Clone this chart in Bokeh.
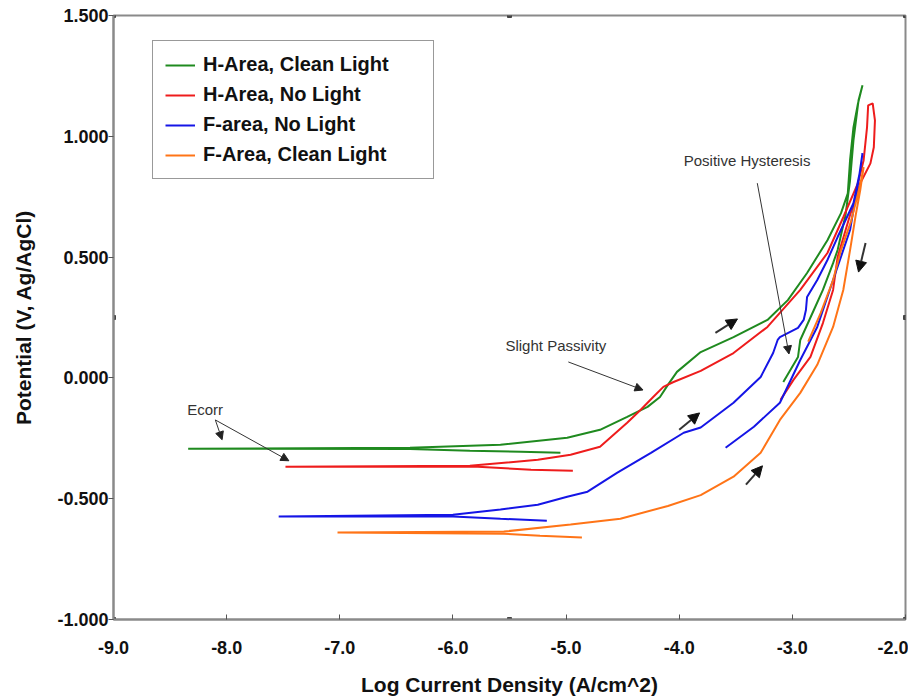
from bokeh.plotting import figure
from bokeh.models import (FixedTicker, NumeralTickFormatter, Legend, LegendItem,
                          Arrow, NormalHead, Label)
from bokeh.embed import file_html
from bokeh.resources import INLINE

# ---------------- data ----------------
# H-Area, Clean Light
h_clean_x = [-5.05, -5.40, -5.85, -6.38, -8.34, -6.38, -5.58, -4.99, -4.70, -4.46, -4.28, -4.17,
             -4.10, -4.02, -3.81, -3.52, -3.22, -3.04, -2.87, -2.69, -2.57, -2.51, -2.49, -2.46,
             -2.42, -2.38,
             -2.415, -2.46, -2.49, -2.53, -2.60, -2.64, -2.73, -2.81, -2.93, -2.95, -3.08]
h_clean_y = [-0.310, -0.306, -0.302, -0.294, -0.293, -0.289, -0.277, -0.248, -0.215, -0.161, -0.120, -0.079,
             -0.029, 0.025, 0.107, 0.169, 0.240, 0.322, 0.434, 0.570, 0.682, 0.764, 0.901, 1.037,
             1.136, 1.211,
             1.149, 0.983, 0.818, 0.674, 0.529, 0.475, 0.364, 0.281, 0.157, 0.087, -0.017]

# H-Area, No Light
h_dark_x = [-4.94, -5.31, -5.78, -7.48, -5.85, -5.25, -4.96, -4.70, -4.46, -4.34, -4.23, -4.14,
            -4.05, -3.81, -3.52, -3.22, -2.93, -2.69, -2.55, -2.42, -2.37, -2.34, -2.33, -2.29,
            -2.27, -2.28, -2.31,
            -2.40, -2.49, -2.60, -2.64, -2.73, -2.84, -2.99, -3.105]
h_dark_y = [-0.384, -0.380, -0.368, -0.368, -0.364, -0.339, -0.318, -0.285, -0.186, -0.132, -0.079, -0.037,
            -0.017, 0.029, 0.103, 0.211, 0.364, 0.517, 0.665, 0.806, 0.901, 1.037, 1.128, 1.136,
            1.066, 0.955, 0.888,
            0.806, 0.674, 0.500, 0.364, 0.227, 0.087, -0.008, -0.091]

# F-area, No Light
f_dark_x = [-5.17, -5.58, -6.00, -7.54, -6.00, -5.58, -5.25, -4.99, -4.81, -4.55, -4.25, -3.96,
            -3.81, -3.52, -3.28, -3.17, -3.13, -3.11, -2.95, -2.90, -2.88, -2.87, -2.78, -2.69,
            -2.60, -2.46, -2.40, -2.38,
            -2.415, -2.49, -2.64, -2.78, -2.93, -3.11, -3.34, -3.59]
f_dark_y = [-0.591, -0.583, -0.574, -0.574, -0.566, -0.545, -0.525, -0.492, -0.471, -0.393, -0.310, -0.227,
            -0.205, -0.103, 0.004, 0.103, 0.157, 0.169, 0.207, 0.240, 0.281, 0.335, 0.405, 0.488,
            0.583, 0.723, 0.860, 0.930,
            0.818, 0.612, 0.405, 0.211, 0.074, -0.103, -0.202, -0.289]

# F-Area, Clean Light
f_clean_x = [-4.86, -5.23, -5.55, -7.02, -5.55, -4.96, -4.52, -4.10, -3.81, -3.52, -3.28, -3.11,
             -2.93, -2.78, -2.64, -2.55, -2.49, -2.44, -2.40, -2.37,
             -2.40, -2.48, -2.57, -2.64, -2.75, -2.86]
f_clean_y = [-0.661, -0.653, -0.645, -0.640, -0.636, -0.607, -0.583, -0.530, -0.485, -0.409, -0.310, -0.174,
             -0.062, 0.054, 0.211, 0.364, 0.529, 0.674, 0.777, 0.872,
             0.800, 0.650, 0.529, 0.405, 0.268, 0.150]

series_names = ["H-Area, Clean Light", "H-Area, No Light", "F-area, No Light", "F-Area, Clean Light"]
series_colors = ["#1f8a1f", "#ee1c1c", "#1515e6", "#ff7417"]
series_x = [h_clean_x, h_dark_x, f_dark_x, f_clean_x]
series_y = [h_clean_y, h_dark_y, f_dark_y, f_clean_y]

x_ticks = [-9.0, -8.0, -7.0, -6.0, -5.0, -4.0, -3.0, -2.0]
y_ticks = [-1.0, -0.5, 0.0, 0.5, 1.0, 1.5]

# annotation texts (x, y of text centre) and arrows (tail -> head)
note_text = ["Ecorr", "Slight Passivity", "Positive Hysteresis"]
note_x = [-8.19, -5.09, -3.40]
note_y = [-0.132, 0.136, 0.901]

thin_x0 = [-8.10, -8.10, -4.98, -3.31]
thin_y0 = [-0.174, -0.174, 0.066, 0.806]
thin_x1 = [-8.04, -7.45, -4.32, -3.03]
thin_y1 = [-0.256, -0.343, -0.050, 0.099]

dir_x0 = [-3.68, -4.00, -3.41, -2.353]
dir_y0 = [0.186, -0.215, -0.442, 0.558]
dir_x1 = [-3.485, -3.82, -3.264, -2.415]
dir_y1 = [0.244, -0.145, -0.364, 0.438]

handle_x = [-9.0, -5.5, -2.0, -2.0, -2.0, -5.5, -9.0, -9.0]
handle_y = [1.5, 1.5, 1.5, 0.25, -1.0, -1.0, -1.0, 0.25]

FONT = "Liberation Sans"

# ---------------- figure ----------------
p = figure(width=908, height=698, output_backend="svg", toolbar_location=None,
           x_range=(-9.0, -2.0), y_range=(-1.0, 1.5),
           min_border_left=113, min_border_top=15, min_border_right=3, min_border_bottom=78)
p.background_fill_color = "white"
p.border_fill_color = "white"
p.outline_line_color = "#8a8a8a"
p.outline_line_width = 2
p.xgrid.visible = False
p.ygrid.visible = False

for ax in (p.xaxis[0], p.yaxis[0]):
    ax.axis_line_color = "#8a8a8a"
    ax.axis_line_width = 2
    ax.major_tick_line_color = "#555555"
    ax.minor_tick_line_color = None
    ax.major_label_text_font = FONT
    ax.major_label_text_font_style = "bold"
    ax.major_label_text_font_size = "18px"
    ax.major_label_text_color = "#111111"
    ax.axis_label_text_font = FONT
    ax.axis_label_text_font_style = "bold"
    ax.axis_label_text_font_size = "21px"
    ax.axis_label_text_color = "#111111"

p.xaxis.ticker = FixedTicker(ticks=x_ticks)
p.yaxis.ticker = FixedTicker(ticks=y_ticks)
p.xaxis.formatter = NumeralTickFormatter(format="0.0")
p.yaxis.formatter = NumeralTickFormatter(format="0.000")
p.xaxis.major_tick_in = 5
p.xaxis.major_tick_out = 0
p.yaxis.major_tick_in = 0
p.yaxis.major_tick_out = 5
p.xaxis.major_label_standoff = 21
p.yaxis.major_label_standoff = 0
p.xaxis.axis_label = "Log Current Density (A/cm^2)"
p.yaxis.axis_label = "Potential (V, Ag/AgCl)"
p.xaxis.axis_label_standoff = 16
p.yaxis.axis_label_standoff = 19

renderers = []
for xs, ys, c in zip(series_x, series_y, series_colors):
    r = p.line(xs, ys, line_color=c, line_width=2)
    renderers.append(r)

p.scatter(handle_x, handle_y, marker="square", size=4, color="#444444")

# annotations
for t, x, y in zip(note_text, note_x, note_y):
    p.add_layout(Label(x=x, y=y, text=t, text_font=FONT, text_font_size="15px",
                       text_color="#333333", text_align="center", text_baseline="middle"))

for x0, y0, x1, y1 in zip(thin_x0, thin_y0, thin_x1, thin_y1):
    p.add_layout(Arrow(x_start=x0, y_start=y0, x_end=x1, y_end=y1,
                       line_color="#333333", line_width=1,
                       end=NormalHead(size=8, fill_color="#222222", line_color="#222222")))

for x0, y0, x1, y1 in zip(dir_x0, dir_y0, dir_x1, dir_y1):
    p.add_layout(Arrow(x_start=x0, y_start=y0, x_end=x1, y_end=y1,
                       line_color="#333333", line_width=2,
                       end=NormalHead(size=11, fill_color="#111111", line_color="#111111")))

legend = Legend(items=[LegendItem(label=n, renderers=[r]) for n, r in zip(series_names, renderers)],
                location=(39, 440))
legend.label_text_font = FONT
legend.label_text_font_style = "bold"
legend.label_text_font_size = "20px"
legend.label_text_color = "#111111"
legend.label_height = 22
legend.label_width = 218
legend.glyph_height = 22
legend.glyph_width = 30
legend.label_standoff = 8
legend.spacing = 7
legend.padding = 12
legend.margin = 0
legend.border_line_color = "#333333"
legend.border_line_width = 1
legend.background_fill_color = "white"
legend.background_fill_alpha = 1.0
p.add_layout(legend, "center")

open("out.html", "w").write(file_html(p, INLINE))
